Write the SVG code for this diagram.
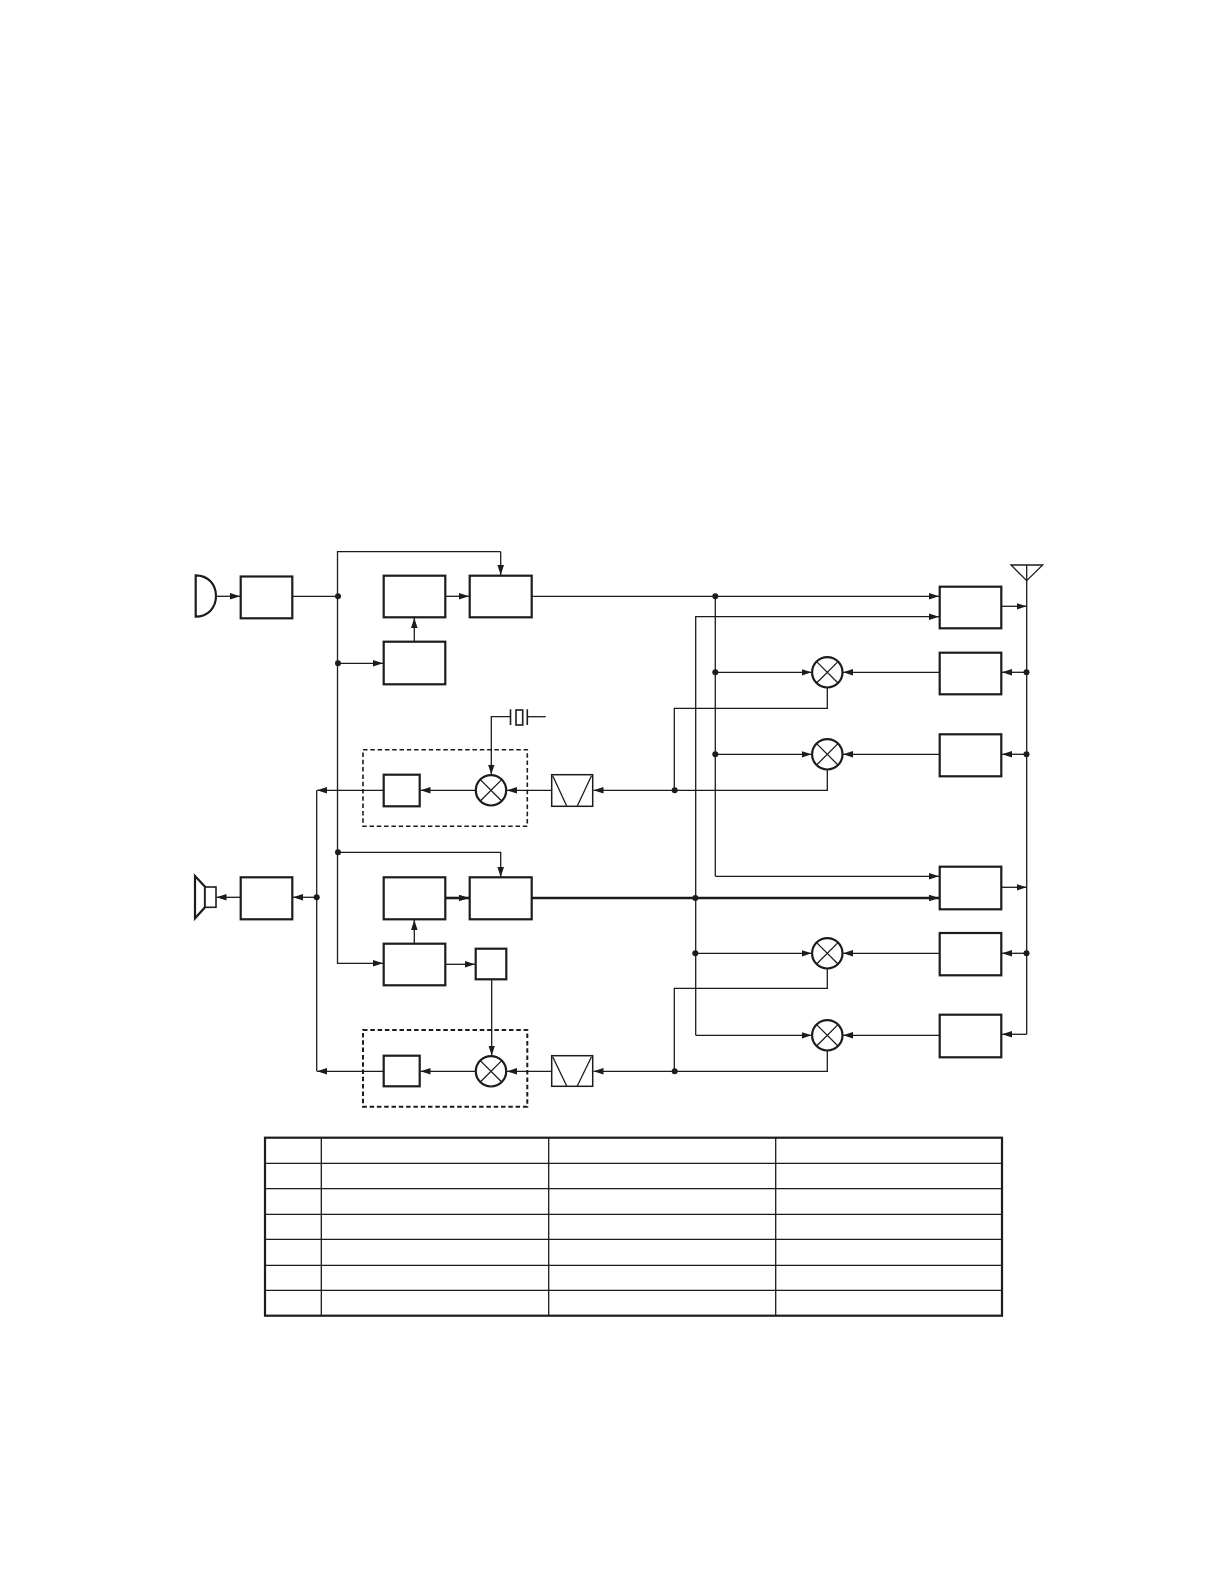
<svg xmlns="http://www.w3.org/2000/svg" width="1224" height="1584" viewBox="0 0 1224 1584">
<style>
rect.b,path.b,circle.b,polygon.b{fill:#fff;stroke:#1f1b1c;stroke-width:2.2}
path.x{fill:none;stroke:#1f1b1c;stroke-width:1.3}
#connectors path{fill:none;stroke:#1f1b1c;stroke-width:1.3}
#connectors path.thick{stroke-width:2.6}
#connectors path.a{marker-end:url(#arrow)}
#connectors circle{fill:#1f1b1c}
rect.d{fill:none;stroke:#1f1b1c;stroke-width:1.6;stroke-dasharray:4.5 2.8}
rect.d2{fill:none;stroke:#1f1b1c;stroke-width:2;stroke-dasharray:4.5 2.8}
#table path{fill:none;stroke:#1f1b1c;stroke-width:1.3}
#table rect{fill:none;stroke:#1f1b1c;stroke-width:2.2}
</style>
<defs>
<marker id="arrow" markerUnits="userSpaceOnUse" markerWidth="11" markerHeight="8" refX="10" refY="3.5" orient="auto">
<path d="M0 0.2L10 3.5L0 6.8Z" fill="#1f1b1c"/>
</marker>
<g id="mix"><circle class="b" r="15.2"/><path class="x" d="M-10.7 -10.7L10.7 10.7M-10.7 10.7L10.7 -10.7"/></g>
</defs>
<g id="connectors">
<path class="a" d="M216 596.3H240"/>
<path d="M292.3 596.3H337.3"/>
<path d="M337.5 964V551.7H500.7"/>
<path class="a" d="M500.7 551.7V575"/>
<path class="a" d="M337.5 663.3H383"/>
<path class="a" d="M414.3 641.7V618"/>
<path class="a" d="M445.3 596.3H469"/>
<path class="a" d="M531.7 596.3H939"/>
<path class="a" d="M695.7 898V616.7H939"/>
<path d="M715.3 596.3V876.3"/>
<path class="a" d="M715.3 876.3H939"/>
<path class="a" d="M715.3 672.3H811.5"/>
<path class="a" d="M715.3 754.3H811.5"/>
<path class="a" d="M939.7 672.3H843"/>
<path class="a" d="M939.7 754.3H843"/>
<path class="a" d="M1001.3 606.3H1026.5"/>
<path d="M1026.7 580V1034.3"/>
<path class="a" d="M1026.7 672.3H1002"/>
<path class="a" d="M1026.7 754.3H1002"/>
<path d="M827.3 688V708.3H674.3V790.3"/>
<path d="M827.3 770V790.3H674.3"/>
<path class="a" d="M674.3 790.3H593.5"/>
<path class="a" d="M551.7 790.3H507"/>
<path class="a" d="M475.8 790.3H420.5"/>
<path class="a" d="M383.7 790.3H317"/>
<path d="M316.7 790.3V1071.3"/>
<path d="M545.7 716.7H527.3"/>
<path class="a" d="M510 716.7H491.3V774.5"/>
<path class="a" d="M337.5 852.3H500.7V877"/>
<path class="a" d="M337.5 963.3H383"/>
<path class="a" d="M414.3 943.7V920"/>
<path class="a thick" d="M445.3 898H469"/>
<path class="a thick" d="M531.7 898H939"/>
<path class="a" d="M445.3 964.3H475"/>
<path d="M695.7 898V1035.3"/>
<path class="a" d="M695.7 953.3H811.5"/>
<path class="a" d="M695.7 1035.3H811.5"/>
<path class="a" d="M939.7 953.3H843"/>
<path class="a" d="M939.7 1035.3H843"/>
<path class="a" d="M1001.3 887.3H1026.5"/>
<path class="a" d="M1026.7 953.3H1002"/>
<path class="a" d="M1026.7 1034.3H1002"/>
<path d="M827.3 969V988.3H674.3V1071.3"/>
<path d="M827.3 1051V1071.3H674.3"/>
<path class="a" d="M674.3 1071.3H593.5"/>
<path class="a" d="M551.7 1071.3H507"/>
<path class="a" d="M475.8 1071.3H420.5"/>
<path class="a" d="M383.7 1071.3H317"/>
<path class="a" d="M491.7 979.3V1055.5"/>
<path class="a" d="M240.7 897.3H216.5"/>
<path class="a" d="M316.7 897.3H293"/>
<circle cx="338" cy="596.3" r="3"/>
<circle cx="338" cy="663.3" r="3"/>
<circle cx="338" cy="852.3" r="3"/>
<circle cx="316.7" cy="897.3" r="3"/>
<circle cx="715.3" cy="596.3" r="3"/>
<circle cx="715.3" cy="672.3" r="3"/>
<circle cx="715.3" cy="754.3" r="3"/>
<circle cx="674.7" cy="790.3" r="3"/>
<circle cx="695.3" cy="898" r="3"/>
<circle cx="695.3" cy="953.3" r="3"/>
<circle cx="674.7" cy="1071.3" r="3"/>
<circle cx="1026.5" cy="672.3" r="3"/>
<circle cx="1026.5" cy="754.3" r="3"/>
<circle cx="1026.5" cy="953.3" r="3"/>
</g>
<g id="mic"><path class="b" d="M195.7 575.3V616.7C208 616.7 216 607.5 216 596C216 584.5 208 575.3 195.7 575.3Z"/></g>
<g id="mic-amp"><rect class="b" x="240.7" y="576.5" width="51.6" height="41.8"/></g>
<g id="tx-a"><rect class="b" x="383.7" y="575.7" width="61.6" height="41.6"/></g>
<g id="tx-b"><rect class="b" x="469.7" y="575.7" width="62" height="41.6"/></g>
<g id="tx-c"><rect class="b" x="383.7" y="641.7" width="61.6" height="42.6"/></g>
<g id="crystal">
<path class="x" d="M510.5 709.3V725M527.3 709.3V725" style="stroke-width:1.6"/>
<rect class="b" x="516" y="710" width="6.7" height="15" style="stroke-width:1.6"/>
</g>
<g id="if-a">
<rect class="d" x="363" y="749.7" width="164.3" height="76.6"/>
<rect class="b" x="383.7" y="774.7" width="36" height="31.6"/>
<use href="#mix" x="491" y="790.3"/>
<rect class="b" x="551.7" y="774.7" width="41" height="31.6" style="stroke-width:1.5"/>
<path class="x" d="M552.7 775.7L566.7 806M591.5 775.7L577.3 806"/>
</g>
<g id="rx-r1"><rect class="b" x="939.7" y="586.7" width="61.6" height="41.6"/></g>
<g id="rx-r2"><rect class="b" x="939.7" y="652.7" width="61.6" height="41.6"/></g>
<g id="rx-r3"><rect class="b" x="939.7" y="734.3" width="61.6" height="42"/></g>
<g id="mixers-upper"><use href="#mix" x="827.3" y="672.3"/><use href="#mix" x="827.3" y="754.3"/></g>
<g id="antenna"><polygon class="b" points="1011,565 1042.7,565 1026.7,580.7" style="stroke-width:1.3"/><path class="x" d="M1026.7 565V581"/></g>
<g id="speaker">
<path class="b" d="M195 876V918.3L205 907.3V886.7Z"/>
<rect class="b" x="205" y="887" width="11" height="20.3" style="stroke-width:1.6"/>
</g>
<g id="spk-amp"><rect class="b" x="240.7" y="877.3" width="51.6" height="42"/></g>
<g id="tx2-a"><rect class="b" x="383.7" y="877.3" width="61.6" height="42"/></g>
<g id="tx2-b"><rect class="b" x="469.7" y="877.3" width="62" height="42"/></g>
<g id="tx2-c"><rect class="b" x="383.7" y="943.7" width="61.6" height="41.6"/></g>
<g id="square"><rect class="b" x="475.7" y="948.7" width="30.6" height="30.6"/></g>
<g id="if-b">
<rect class="d2" x="363" y="1030" width="164.3" height="76.7"/>
<rect class="b" x="383.7" y="1055.7" width="36" height="30.6"/>
<use href="#mix" x="491" y="1071.3"/>
<rect class="b" x="551.7" y="1055.7" width="41" height="30.6" style="stroke-width:1.5"/>
<path class="x" d="M552.7 1056.7L566.7 1086M591.5 1056.7L577.3 1086"/>
</g>
<g id="rx-r4"><rect class="b" x="939.7" y="866.7" width="61.6" height="42.6"/></g>
<g id="rx-r5"><rect class="b" x="939.7" y="933" width="61.6" height="42.3"/></g>
<g id="rx-r6"><rect class="b" x="939.7" y="1014.7" width="61.6" height="42.6"/></g>
<g id="mixers-lower"><use href="#mix" x="827.3" y="953.3"/><use href="#mix" x="827.3" y="1035.3"/></g>
<g id="table">
<rect x="265" y="1137.7" width="737" height="178"/>
<path d="M321.3 1137.7V1315.7M548.7 1137.7V1315.7M775.7 1137.7V1315.7M265 1163.3H1002M265 1188.7H1002M265 1214.3H1002M265 1239.3H1002M265 1265.3H1002M265 1290.3H1002"/>
</g>
</svg>
